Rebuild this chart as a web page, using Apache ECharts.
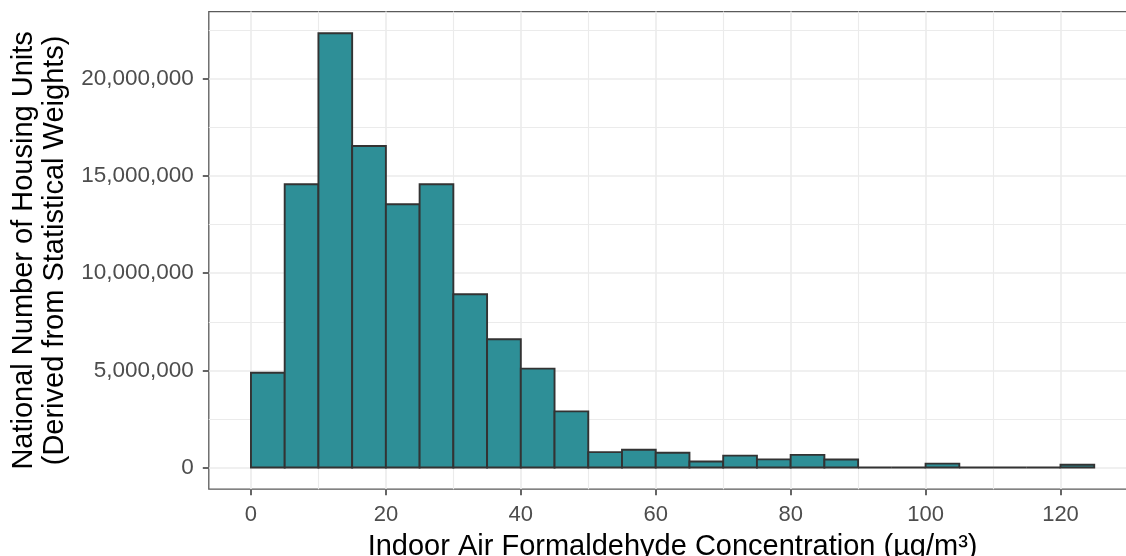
<!DOCTYPE html>
<html>
<head>
<meta charset="utf-8">
<script src="https://cdn.jsdelivr.net/npm/echarts@6/dist/echarts.min.js"></script>
<style>
  html, body { margin: 0; padding: 0; background: #ffffff; }
  #chart { width: 1126px; height: 556px; }
</style>
</head>
<body>
<div id="chart"></div>
<script>
// Histogram of indoor formaldehyde concentration, 5 µg/m³ bins
const binWidth = 5;
const binStarts = [0, 5, 10, 15, 20, 25, 30, 35, 40, 45, 50, 55, 60, 65, 70, 75, 80, 85, 90, 95, 100, 105, 110, 115, 120];
const housingUnits = [
  4880000, 14580000, 22350000, 16550000, 13550000, 14580000, 8920000, 6600000, 5090000, 2890000,
  790000, 910000, 760000, 310000, 610000, 420000, 650000, 410000, 0, 0,
  200000, 0, 0, 0, 140000
];

// Axis ticks and grid lines
const xTicks = [0, 20, 40, 60, 80, 100, 120];
const xMinor = [10, 30, 50, 70, 90, 110, 130];
const yTicks = [0, 5000000, 10000000, 15000000, 20000000];
const yMinor = [2500000, 7500000, 12500000, 17500000, 22500000];

const xTitle = 'Indoor Air Formaldehyde Concentration (µg/m³)';
const yTitle = 'National Number of Housing Units\n(Derived from Statistical Weights)';

// Panel range padded by 5% on each side
const xLo = binStarts[0];
const xHi = binStarts[binStarts.length - 1] + binWidth;
const xPad = (xHi - xLo) * 0.05;
const yHi = Math.max(...housingUnits);
const yPad = yHi * 0.05;

const bins = binStarts.map((s, i) => [s, s + binWidth, housingUnits[i]]);

const font = '"Liberation Sans", Arial, sans-serif';
const gridColor = '#ebebeb';
const fillColor = '#2e8f97';
const outline = '#333333';

const gridLines = [
  ...xMinor.map(v => ({ xAxis: v, lineStyle: { width: 1.1, color: gridColor, type: 'solid' } })),
  ...yMinor.map(v => ({ yAxis: v, lineStyle: { width: 1.1, color: gridColor, type: 'solid' } })),
  ...xTicks.map(v => ({ xAxis: v, lineStyle: { width: 1.6, color: gridColor, type: 'solid' } })),
  ...yTicks.map(v => ({ yAxis: v, lineStyle: { width: 1.6, color: gridColor, type: 'solid' } }))
];

const chart = echarts.init(document.getElementById('chart'), null, { renderer: 'canvas' });

chart.setOption({
  animation: false,
  backgroundColor: '#ffffff',
  grid: {
    left: 208.8,
    top: 11.6,
    width: 927.6,
    height: 477.6,
    show: true,
    borderColor: '#5a5a5a',
    borderWidth: 1.3,
    backgroundColor: 'transparent',
    containLabel: false,
    outerBoundsMode: 'none'
  },
  xAxis: {
    type: 'value',
    min: xLo - xPad,
    max: xHi + xPad,
    axisLine: { show: false, onZero: false },
    splitLine: { show: false },
    minorSplitLine: { show: false },
    axisTick: {
      show: true,
      inside: false,
      customValues: xTicks,
      length: 6,
      lineStyle: { color: '#333333', width: 1.5 }
    },
    axisLabel: {
      customValues: xTicks,
      margin: 15,
      fontFamily: font,
      fontSize: 22,
      color: '#4d4d4d'
    },
    name: xTitle,
    nameLocation: 'middle',
    nameGap: 35,
    nameTextStyle: { fontFamily: font, fontSize: 29, color: '#000000', lineHeight: 31 }
  },
  yAxis: {
    type: 'value',
    min: -yPad,
    max: yHi + yPad,
    axisLine: { show: false, onZero: false },
    splitLine: { show: false },
    minorSplitLine: { show: false },
    axisTick: {
      show: true,
      inside: false,
      customValues: yTicks,
      length: 6,
      lineStyle: { color: '#333333', width: 1.5 }
    },
    axisLabel: {
      customValues: yTicks,
      margin: 15,
      fontFamily: font,
      fontSize: 22.5,
      color: '#4d4d4d',
      formatter: v => Number(v).toLocaleString('en-US')
    },
    name: yTitle,
    nameLocation: 'middle',
    nameRotate: 90,
    nameGap: 136,
    nameTextStyle: { fontFamily: font, fontSize: 29, color: '#000000', lineHeight: 31, align: 'center' }
  },
  series: [
    {
      // background grid of the panel
      type: 'line',
      data: [],
      z: 1,
      silent: true,
      markLine: {
        z: 1,
        silent: true,
        symbol: ['none', 'none'],
        label: { show: false },
        animation: false,
        data: gridLines
      }
    },
    {
      type: 'custom',
      z: 3,
      data: bins,
      encode: { x: [0, 1], y: 2 },
      renderItem: function (params, api) {
        const topLeft = api.coord([api.value(0), api.value(2)]);
        const bottomRight = api.coord([api.value(1), 0]);
        const h = bottomRight[1] - topLeft[1];
        if (h < 0.5) {
          // empty bin: the outline collapses to a flat line on the baseline
          return {
            type: 'line',
            shape: { x1: topLeft[0], y1: bottomRight[1], x2: bottomRight[0], y2: bottomRight[1] },
            style: { stroke: outline, lineWidth: 1.9 }
          };
        }
        return {
          type: 'rect',
          shape: {
            x: topLeft[0],
            y: topLeft[1],
            width: bottomRight[0] - topLeft[0],
            height: h
          },
          style: {
            fill: fillColor,
            stroke: outline,
            lineWidth: 1.9
          }
        };
      }
    }
  ]
});
</script>
</body>
</html>
